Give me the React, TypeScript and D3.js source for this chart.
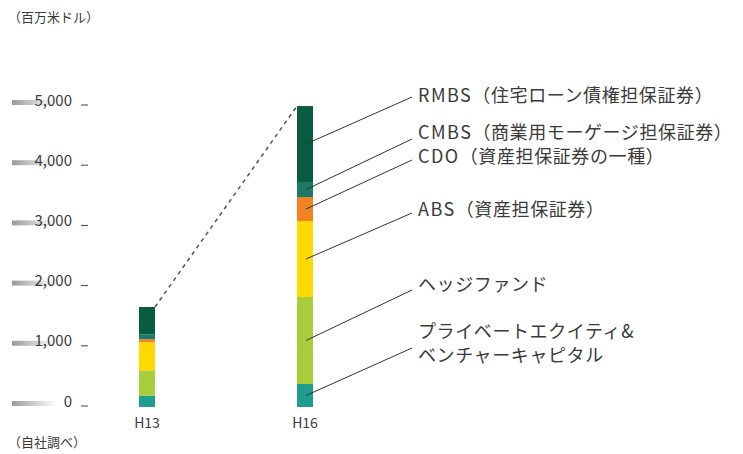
import React from "react";
import * as d3 from "d3";

const categories = ["H13", "H16"];
const seriesNames = [
  "プライベートエクイティ&ベンチャーキャピタル",
  "ヘッジファンド",
  "ABS（資産担保証券）",
  "CDO（資産担保証券の一種）",
  "CMBS（商業用モーゲージ担保証券）",
  "RMBS（住宅ローン債権担保証券）",
];
const peValues = [190, 382];
const hedgeValues = [420, 1445];
const absValues = [465, 1262];
const cdoValues = [50, 399];
const cmbsValues = [83, 249];
const rmbsValues = [453, 1262];
const yTicks = [0, 1000, 2000, 3000, 4000, 5000];

const colors = ["#1f9e8f", "#a8cc3a", "#ffd900", "#f28322", "#1b7b67", "#075c42"];
// label text lines (latin prefix, rest) and their vertical centers (layout)
const labelLines: [string, string][][] = [
  [["", "プライベートエクイティ&"], ["", "ベンチャーキャピタル"]],
  [["", "ヘッジファンド"]],
  [["ABS", "（資産担保証券）"]],
  [["CDO", "（資産担保証券の一種）"]],
  [["CMBS", "（商業用モーゲージ担保証券）"]],
  [["RMBS", "（住宅ローン債権担保証券）"]],
];
const labelY = [332, 285, 210, 157, 133, 96];
const lineEndY = [348, 290, 213, 160, 139, 97];

export default function App() {
  const W = 743, H = 454;
  const allSeries = [peValues, hedgeValues, absValues, cdoValues, cmbsValues, rmbsValues];
  const data = categories.map((c, i) => {
    const o: any = { cat: c };
    allSeries.forEach((s, k) => (o["s" + k] = s[i]));
    return o;
  });
  const keys = allSeries.map((_, k) => "s" + k);
  const stack = d3.stack().keys(keys)(data as any);
  const y = d3.scaleLinear().domain([0, 5000]).range([407, 106]);
  const x = d3.scalePoint().domain(categories).range([147, 305]);
  const bw = 16;
  const font = "'Noto Sans CJK JP', 'Noto Sans', sans-serif";
  const txt = "#3a3a3a";

  const totals = categories.map((_, i) => d3.sum(allSeries, (s) => s[i]));
  const x0 = x("H13")!, x1 = x("H16")!;

  return (
    <svg width={W} height={H} style={{ position: "absolute", left: 0, top: 0 }} fontFamily={font}>
      <defs>
        <linearGradient id="tg" x1="0" x2="1" y1="0" y2="0">
          <stop offset="0" stopColor="#9a9a9a" />
          <stop offset="1" stopColor="#ffffff" />
        </linearGradient>
      </defs>
      <rect width={W} height={H} fill="#fff" />
      <text x={8} y={22} fontSize={13} fill={txt}>（百万米ドル）</text>
      <text x={8} y={447} fontSize={13} fill={txt}>（自社調べ）</text>
      {yTicks.map((t) => (
        <g key={t}>
          <rect x={12} y={y(t) - 6} width={44} height={5} fill="url(#tg)" />
          <text x={72} y={y(t) - 0.5} fontSize={15} textAnchor="end" fill={txt}>
            {d3.format(",")(t)}
          </text>
          <line x1={81} x2={88} y1={y(t) - 1} y2={y(t) - 1} stroke="#444" strokeWidth={1} />
        </g>
      ))}
      {stack.map((layer, k) => (
        <g key={k} fill={colors[k]}>
          {layer.map((d, i) => (
            <rect key={i} x={x(categories[i])! - bw / 2} y={y(d[1])} width={bw} height={y(d[0]) - y(d[1])} />
          ))}
        </g>
      ))}
      <line x1={x0 + bw / 2} y1={y(totals[0])} x2={x1 - bw / 2} y2={y(totals[1])}
        stroke="#555" strokeWidth={1.5} strokeDasharray="4,4" />
      {categories.map((c) => (
        <text key={c} x={x(c)!} y={428} fontSize={14} textAnchor="middle" fill={txt}>{c}</text>
      ))}
      {stack.map((layer, k) => {
        const d = layer[1];
        const ym = (y(d[0]) + y(d[1])) / 2;
        return (
          <g key={"l" + k}>
            <line x1={x1 + 1} y1={ym} x2={412} y2={lineEndY[k]} stroke="#333" strokeWidth={1} />
            {labelLines[k].map((ln, j) => (
              <text key={j} x={418} y={labelY[k] + j * 24} dy="0.35em" fontSize={18} fill={txt}>
                {ln[0] ? <tspan letterSpacing={1.5}>{ln[0]}</tspan> : null}
                <tspan letterSpacing={0.6}>{ln[1]}</tspan>
              </text>
            ))}
          </g>
        );
      })}
    </svg>
  );
}
